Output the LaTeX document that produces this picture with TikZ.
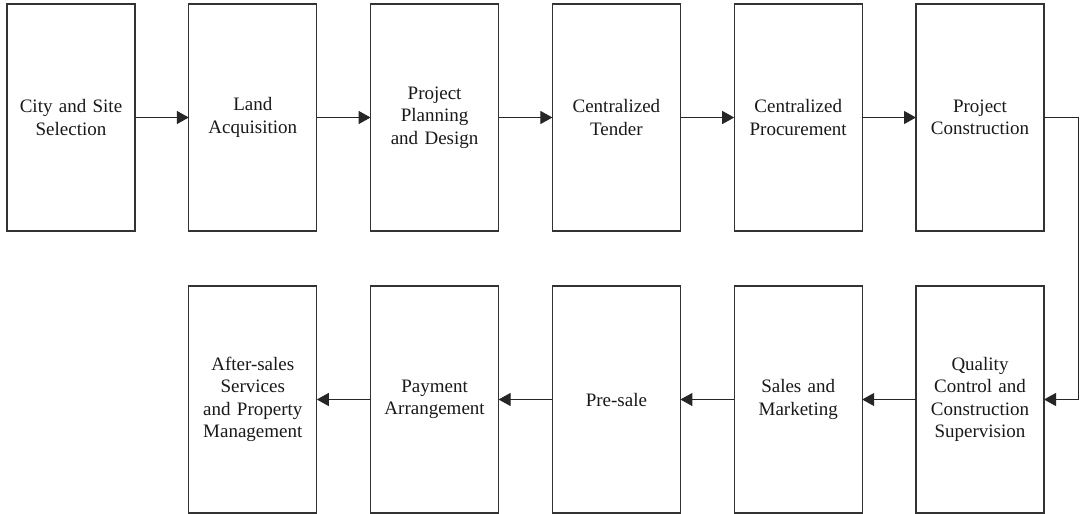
\documentclass[tikz,border=0pt]{standalone}
\usepackage{fontspec}
\setmainfont{Liberation Serif}
\usetikzlibrary{arrows.meta}
\begin{document}
\begin{tikzpicture}[x=1pt,y=-1pt,
  stepbox/.style={draw=black!80, line width=1.1pt, rectangle, minimum width=128pt, minimum height=227pt,
    inner sep=0pt, outer sep=0pt, align=center, text width=124pt, text=black!90,
    font=\fontsize{19}{22.5}\selectfont},
  conn/.style={draw=black!85, line width=1.1pt, -{Triangle[length=12pt,width=13pt]}}]
\useasboundingbox[fill=white] (0,0) rectangle (1080,514);
\node[stepbox] (a) at (71,117.5) {City and Site\\Selection};
\node[stepbox] (b) at (252.8,117.5) {Land\\Acquisition};
\node[stepbox] (c) at (434.6,117.5) {Project\\Planning\\and Design};
\node[stepbox] (d) at (616.4,117.5) {Centralized\\Tender};
\node[stepbox] (e) at (798.2,117.5) {Centralized\\Procurement};
\node[stepbox] (f) at (980,117.5) {Project\\Construction};
\node[stepbox] (g) at (980,399.5) {Quality\\Control and\\Construction\\Supervision};
\node[stepbox] (h) at (798.2,399.5) {Sales and\\Marketing};
\node[stepbox] (i) at (616.4,399.5) {Pre-sale};
\node[stepbox] (j) at (434.6,399.5) {Payment\\Arrangement};
\node[stepbox] (k) at (252.8,399.5) {After-sales\\Services\\and Property\\Management};
\draw[conn] (a) -- (b);
\draw[conn] (b) -- (c);
\draw[conn] (c) -- (d);
\draw[conn] (d) -- (e);
\draw[conn] (e) -- (f);
\coordinate (turn) at (1078.5,117.5);
\draw[conn] (f.east) -- (turn) |- (g.east);
\draw[conn] (g) -- (h);
\draw[conn] (h) -- (i);
\draw[conn] (i) -- (j);
\draw[conn] (j) -- (k);
\end{tikzpicture}
\end{document}
